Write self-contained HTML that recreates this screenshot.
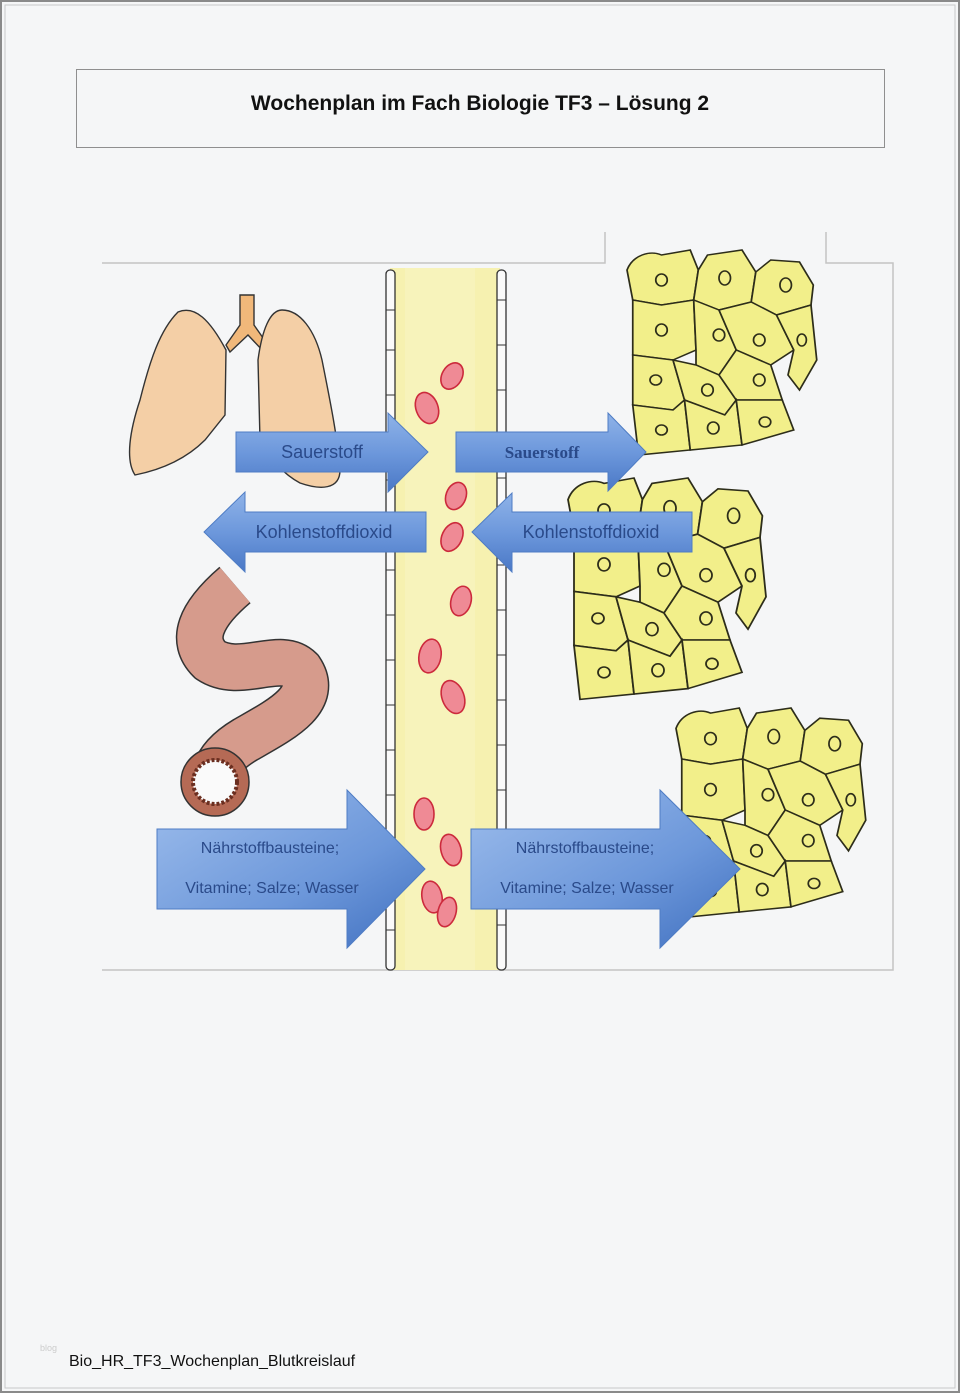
<!DOCTYPE html>
<html><head><meta charset="utf-8"><style>
html,body{margin:0;padding:0;background:#fff}
body{width:960px;height:1393px;position:relative;overflow:hidden;font-family:"Liberation Sans",sans-serif}
</style></head><body>
<svg width="960" height="1393" viewBox="0 0 960 1393" xmlns="http://www.w3.org/2000/svg" style="position:absolute;left:0;top:0">
<defs>
<linearGradient id="ag" x1="0" y1="0" x2="0" y2="1">
<stop offset="0" stop-color="#8fb3e8"/><stop offset="0.5" stop-color="#6d98dc"/><stop offset="1" stop-color="#4a78c6"/></linearGradient>
<linearGradient id="ag2" x1="0" y1="0" x2="1" y2="1">
<stop offset="0" stop-color="#9dbdec"/><stop offset="0.6" stop-color="#6c97da"/><stop offset="1" stop-color="#3f6fbf"/></linearGradient>
<g id="cl" stroke="#2d2d1a" stroke-width="1.5" fill="#f2ef8a">
<path d="M0 20 C5 5 20 0 30 5 L55 0 L62 20 L58 50 L30 55 L5 50 Z"/>
<path d="M62 20 L70 5 L100 0 L112 22 L108 52 L80 60 L58 50 Z"/>
<path d="M112 22 L125 10 L150 12 L162 35 L160 55 L130 65 L108 52 Z"/>
<path d="M5 50 L30 55 L58 50 L60 100 L40 110 L5 105 Z"/>
<path d="M58 50 L80 60 L95 100 L80 125 L60 115 L60 100 Z"/>
<path d="M80 60 L108 52 L130 65 L145 100 L125 115 L95 100 Z"/>
<path d="M130 65 L160 55 L165 110 L150 140 L140 125 L145 100 Z"/>
<path d="M5 105 L40 110 L50 150 L40 160 L5 155 Z"/>
<path d="M40 110 L60 115 L80 125 L95 150 L85 165 L50 150 Z"/>
<path d="M80 125 L95 100 L125 115 L135 150 L95 150 Z"/>
<path d="M5 155 L40 160 L50 150 L55 200 L10 205 Z"/>
<path d="M55 200 L50 150 L85 165 L95 150 L100 195 Z"/>
<path d="M95 150 L135 150 L145 180 L100 195 Z"/>
<g fill="none"><ellipse cx="30" cy="30" rx="5" ry="6"/><ellipse cx="85" cy="28" rx="5" ry="7"/><ellipse cx="138" cy="35" rx="5" ry="7"/><ellipse cx="30" cy="80" rx="5" ry="6"/><ellipse cx="80" cy="85" rx="5" ry="6"/><ellipse cx="115" cy="90" rx="5" ry="6"/><ellipse cx="152" cy="90" rx="4" ry="6"/><ellipse cx="25" cy="130" rx="5" ry="5"/><ellipse cx="70" cy="140" rx="5" ry="6"/><ellipse cx="115" cy="130" rx="5" ry="6"/><ellipse cx="30" cy="180" rx="5" ry="5"/><ellipse cx="75" cy="178" rx="5" ry="6"/><ellipse cx="120" cy="172" rx="5" ry="5"/></g>
</g>
</defs>
<rect x="1" y="1" width="958" height="1391" fill="#f5f6f7" stroke="#8a8a8a" stroke-width="2"/>
<rect x="5" y="5" width="950" height="1383" fill="none" stroke="#c8c8c8" stroke-width="1"/>
<rect x="76.5" y="69.5" width="808" height="78" fill="#f5f6f7" stroke="#8f8f8f"/>
<text x="480" y="110" text-anchor="middle" font-size="21" font-weight="bold" fill="#111">Wochenplan im Fach Biologie TF3 – Lösung 2</text>

<g stroke="#c4c4c4" fill="none" stroke-width="1.5">
<path d="M102 263 H605 V232"/><path d="M826 232 V263 H893 V970 H102"/>
</g>

<rect x="390" y="268" width="110" height="702" fill="#f6f1b0"/>
<rect x="405" y="268" width="70" height="702" fill="#f8f4c0" opacity="0.7"/>
<g fill="#fafafa" stroke="#333" stroke-width="1.3">
<rect x="386" y="270" width="9" height="700" rx="4"/>
<rect x="497" y="270" width="9" height="700" rx="4"/>
</g>
<g stroke="#333" stroke-width="1">
<path d="M386 310h9M386 350h9M386 395h9M386 440h9M386 480h9M386 525h9M386 570h9M386 615h9M386 660h9M386 705h9M386 750h9M386 795h9M386 840h9M386 885h9M386 930h9"/>
<path d="M497 300h9M497 345h9M497 390h9M497 432h9M497 478h9M497 520h9M497 565h9M497 610h9M497 655h9M497 700h9M497 745h9M497 790h9M497 835h9M497 880h9M497 925h9"/>
</g>

<g fill="#ef8a95" stroke="#cc2a3c" stroke-width="1.6">
<ellipse cx="427" cy="408" rx="11" ry="16" transform="rotate(-20 427 408)"/>
<ellipse cx="452" cy="376" rx="10" ry="14" transform="rotate(30 452 376)"/>
<ellipse cx="456" cy="496" rx="10" ry="14" transform="rotate(20 456 496)"/>
<ellipse cx="452" cy="537" rx="10" ry="15" transform="rotate(25 452 537)"/>
<ellipse cx="461" cy="601" rx="10" ry="15" transform="rotate(15 461 601)"/>
<ellipse cx="430" cy="656" rx="11" ry="17" transform="rotate(10 430 656)"/>
<ellipse cx="453" cy="697" rx="11" ry="17" transform="rotate(-20 453 697)"/>
<ellipse cx="424" cy="814" rx="10" ry="16"/>
<ellipse cx="451" cy="850" rx="10" ry="16" transform="rotate(-15 451 850)"/>
<ellipse cx="432" cy="897" rx="10" ry="16" transform="rotate(-10 432 897)"/>
<ellipse cx="447" cy="912" rx="9" ry="15" transform="rotate(15 447 912)"/>
</g>

<g stroke="#333" stroke-width="1.4" fill="#f4cfa6">
<path d="M240 295 V325 L226 345 L230 352 L248 335 L264 352 L268 345 L254 325 V295 Z" fill="#f1b87a"/>
<path d="M178 312 C160 330 150 360 140 400 C130 430 125 460 135 475 C160 470 185 460 205 440 L225 415 L226 350 C210 320 195 305 178 312 Z"/>
<path d="M282 310 C300 310 315 330 322 360 C330 400 338 440 340 470 C340 490 320 490 300 483 C285 475 270 460 260 440 L258 360 C262 330 270 310 282 310 Z"/>
</g>

<path d="M235 585 C200 615 190 640 210 660 C240 680 280 650 300 670 C320 700 280 720 245 740 C225 752 215 765 215 780" fill="none" stroke="#333" stroke-width="48"/>
<path d="M235 585 C200 615 190 640 210 660 C240 680 280 650 300 670 C320 700 280 720 245 740 C225 752 215 765 215 780" fill="none" stroke="#d69b8c" stroke-width="45"/>
<circle cx="215" cy="782" r="34" fill="#b56a55" stroke="#333" stroke-width="1.5"/>
<circle cx="215" cy="782" r="22" fill="#fafafa" stroke="#6a2e20" stroke-width="4" stroke-dasharray="3 2"/>

<use href="#cl" transform="translate(627 250) scale(1.15 1.0)"/>
<use href="#cl" transform="translate(568 478) scale(1.2 1.08)"/>
<use href="#cl" transform="translate(676 708) scale(1.15 1.02)"/>

<g stroke="#4e7cc4" stroke-width="1">
<path d="M236 432 H388 V413 L428 452 L388 492 V472 H236 Z" fill="url(#ag)"/>
<path d="M456 432 H608 V413 L646 452 L608 491 V472 H456 Z" fill="url(#ag)"/>
<path d="M426 512 H245 V492 L204 532 L245 572 V552 H426 Z" fill="url(#ag)"/>
<path d="M692 512 H512 V493 L472 532 L512 572 V552 H692 Z" fill="url(#ag)"/>
<path d="M157 829 H347 V790 L425 869 L347 948 V909 H157 Z" fill="url(#ag2)"/>
<path d="M471 829 H660 V790 L740 869 L660 948 V909 H471 Z" fill="url(#ag2)"/>
</g>
<g fill="#2a4a8a" font-size="18" text-anchor="middle">
<text x="322" y="458">Sauerstoff</text>
<text x="542" y="458" font-family="Liberation Serif,serif" font-weight="bold" font-size="17">Sauerstoff</text>
<text x="324" y="538">Kohlenstoffdioxid</text>
<text x="591" y="538">Kohlenstoffdioxid</text>
<g font-size="16"><text x="270" y="853">Nährstoffbausteine;</text>
<text x="272" y="893">Vitamine; Salze; Wasser</text>
<text x="585" y="853">Nährstoffbausteine;</text>
<text x="587" y="893">Vitamine; Salze; Wasser</text></g>
</g>

<text x="40" y="1351" font-size="9" fill="#ccc">blog</text>
<text x="69" y="1366" font-size="16" fill="#111">Bio_HR_TF3_Wochenplan_Blutkreislauf</text>
</svg>
</body></html>
